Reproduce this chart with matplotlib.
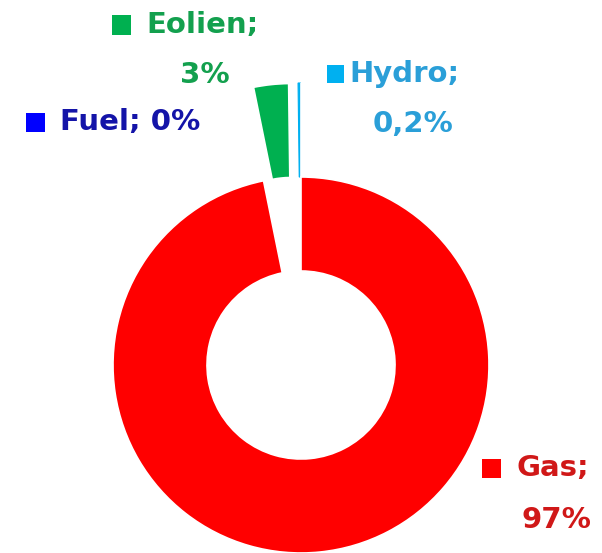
import matplotlib
matplotlib.use("Agg")
import matplotlib.pyplot as plt

# Electricity production mix
categories = ["Gas", "Eolien", "Hydro", "Fuel"]
values = [97, 3, 0.2, 0]
wedge_colors = ["#ff0000", "#00b050", "#00b0f0", "#0000ff"]
text_colors = ["#d01818", "#13a04e", "#2a9fd8", "#1414a8"]
explode = [0, 0.5, 0.5, 0.5]

W, H = 602, 553
fig = plt.figure(figsize=(W / 100, H / 100), dpi=100)
fig.patch.set_facecolor("white")

# pie centre at (301, 365) px from the top-left, outer radius 188 px
R_PX = 188.0
cx, cy = 301.0, H - 365.0
ax = fig.add_axes([0, 0, 1, 1])
wedges, _ = ax.pie(
    values,
    colors=wedge_colors,
    startangle=90,
    counterclock=False,
    explode=explode,
    radius=1.0,
    wedgeprops=dict(width=0.5, edgecolor="white", linewidth=1.2),
)
# the thin hydro slice keeps its own colour on the outline
wedges[2].set_edgecolor(wedge_colors[2])
wedges[2].set_linewidth(0.8)
wedges[2].set_zorder(0.5)

ax.set_xlim(-cx / R_PX, (W - cx) / R_PX)
ax.set_ylim(-cy / R_PX, (H - cy) / R_PX)
ax.set_aspect("auto")
ax.axis("off")

total = sum(values)


def pct_text(v):
    share = v / total * 100
    if 0 < share < 1:
        return f"{share:.1f}".replace(".", ",") + "%"
    return f"{share:.0f}%"


FONT = ["DejaVu Sans"]
FS = 21


def px(x, y):
    return x / W, 1 - y / H


def square(x, y, color, size=19):
    fig.patches.append(
        plt.Rectangle(
            px(x - size / 2, y + size / 2),
            size / W,
            size / H,
            transform=fig.transFigure,
            facecolor=color,
            edgecolor="none",
        )
    )


def put(x, y, s, color, ha="left"):
    fig.text(*px(x, y), s, color=color, fontsize=FS, fontweight="bold",
             family=FONT, ha=ha, va="center")


idx = {c: i for i, c in enumerate(categories)}

# Eolien
i = idx["Eolien"]
square(121, 25, wedge_colors[i])
put(146, 25, categories[i] + ";", text_colors[i])
put(205, 75, pct_text(values[i]), text_colors[i], ha="center")

# Hydro
i = idx["Hydro"]
square(335, 74, wedge_colors[i], size=17)
put(349, 74, categories[i] + ";", text_colors[i])
put(413, 124, pct_text(values[i]), text_colors[i], ha="center")

# Fuel
i = idx["Fuel"]
square(35, 122, wedge_colors[i])
put(60, 122, categories[i] + "; " + pct_text(values[i]), text_colors[i])

# Gas
i = idx["Gas"]
square(492, 468, wedge_colors[i])
put(516, 468, categories[i] + ";", text_colors[i])
put(556, 520, pct_text(values[i]), text_colors[i], ha="center")

fig.savefig("out.png", dpi=100, facecolor="white")
